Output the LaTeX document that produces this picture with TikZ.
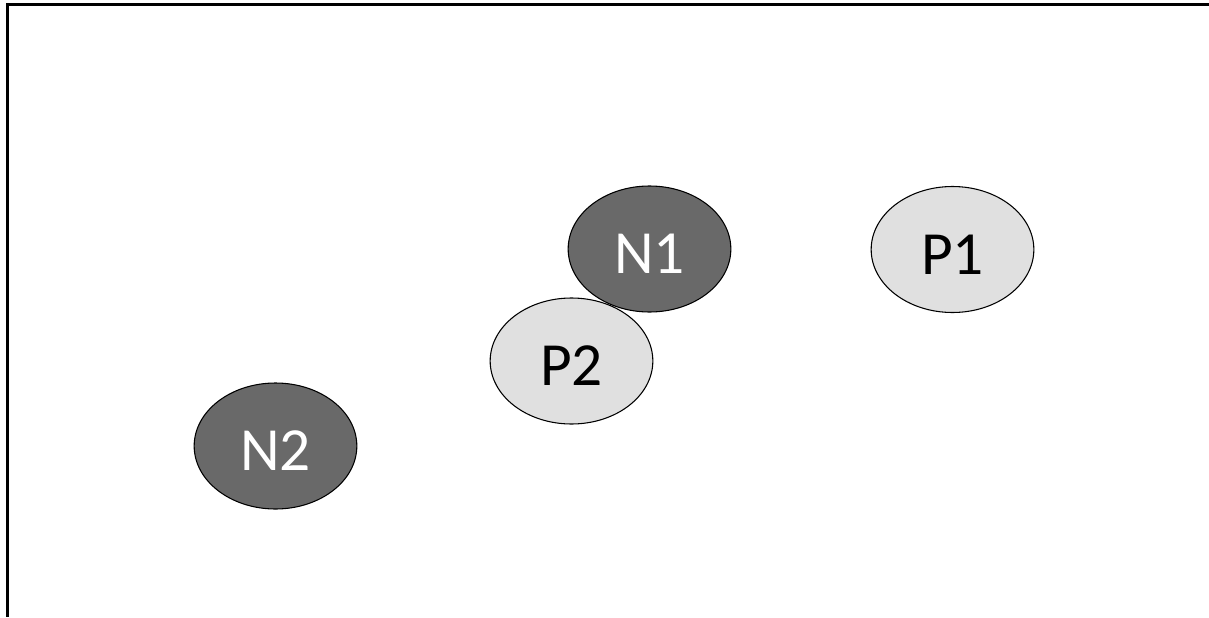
\documentclass[tikz,border=0pt]{standalone}
\usepackage{fontspec}
\setmainfont{Carlito}
\usetikzlibrary{shapes.geometric}
\definecolor{darkfill}{HTML}{696969}
\definecolor{lightfill}{HTML}{E0E0E0}
\tikzset{
  blob/.style={ellipse, draw=black, line width=0.8pt, minimum width=122pt,
    minimum height=94.5pt, inner sep=0pt, text height=37pt, text depth=0pt,
    font=\fontsize{46}{54}\selectfont},
  negcharge/.style={blob, fill=darkfill, text=white},
  poscharge/.style={blob, fill=lightfill, text=black},
  frameline/.style={line width=2.25pt, line join=miter}
}
\begin{document}
\begin{tikzpicture}[x=0.75pt, y=-0.75pt]
  \useasboundingbox (0,0) rectangle (1209,617);
  % frame along the top and left edges
  \draw[frameline] (1209,5) -- (7,5) -- (7,617);
  % charges
  \node[poscharge] (P2) at (571.5,361) {P2};
  \node[negcharge] (N1) at (649.5,249) {N1};
  \node[poscharge] (P1) at (952.5,249.5) {P1};
  \node[negcharge] (N2) at (275.5,446) {N2};
\end{tikzpicture}
\end{document}
